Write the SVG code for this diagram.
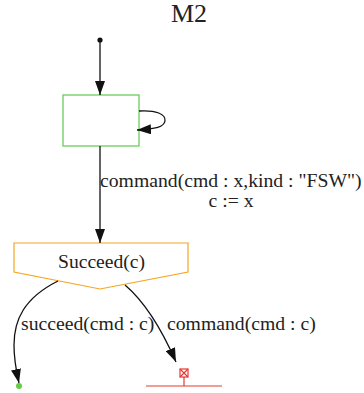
<svg xmlns="http://www.w3.org/2000/svg" width="364" height="393" viewBox="0 0 364 393">
  <style>
    text { font-family: "Liberation Serif", "Times New Roman", serif; fill: #222; }
    .lbl { font-size: 19.7px; }
    .edge { fill: none; stroke: #111; stroke-width: 1.3; }
  </style>
  <defs>
    <marker id="arrow" viewBox="0 0 14 10" refX="14" refY="5" markerWidth="14" markerHeight="10" markerUnits="userSpaceOnUse" orient="auto">
      <path d="M0,0 L14,5 L0,10 Z" fill="#111"/>
    </marker>
  </defs>
  <rect width="364" height="393" fill="#fff"/>
  <text x="171" y="22" font-size="26">M2</text>

  <g id="initial">
    <circle cx="100" cy="40" r="2.6" fill="#111"/>
  </g>

  <g id="state">
    <rect x="63" y="95" width="76" height="51" fill="#fff" stroke="#6ccc5c" stroke-width="1.3"/>
  </g>

  <g id="succeed">
    <path d="M14,243 L188,243 L188,272 L100,289 L14,272 Z" fill="#fff" stroke="#f5a623" stroke-width="1.2"/>
    <text x="101.5" y="268" font-size="19.6" text-anchor="middle">Succeed(c)</text>
  </g>

  <g id="final">
    <circle cx="19" cy="386" r="3" fill="#66cc44"/>
  </g>

  <g id="error">
    <line x1="146" y1="386" x2="222" y2="386" stroke="#e53935" stroke-width="1.2"/>
    <line x1="184" y1="377" x2="184" y2="386" stroke="#e53935" stroke-width="1.2"/>
    <rect x="180" y="369" width="8" height="8" fill="#fff" stroke="#e53935" stroke-width="1.2"/>
    <path d="M180,369 L188,377 M188,369 L180,377" stroke="#e53935" stroke-width="1.2"/>
  </g>

  <g id="connectors">
    <path class="edge" d="M100,42 L100,95" marker-end="url(#arrow)"/>
    <path class="edge" d="M139,111 C156,110 166,114 165,121 C164,127 156,129 137,130" marker-end="url(#arrow)"/>
    <path class="edge" d="M100,146 L100,243" marker-end="url(#arrow)"/>
    <path class="edge" d="M58,281 C24,298 14,320 14,345 C14,362 17,374 19,383" marker-end="url(#arrow)"/>
    <path class="edge" d="M125,285 C145,302 162,330 176,362" marker-end="url(#arrow)"/>
  </g>

  <g id="labels">
    <text class="lbl" x="100" y="187">command(cmd : x,kind : "FSW")</text>
    <text class="lbl" x="231" y="207" text-anchor="middle">c := x</text>
    <text class="lbl" x="21" y="330">succeed(cmd : c)</text>
    <text class="lbl" x="167" y="330">command(cmd : c)</text>
  </g>
</svg>
